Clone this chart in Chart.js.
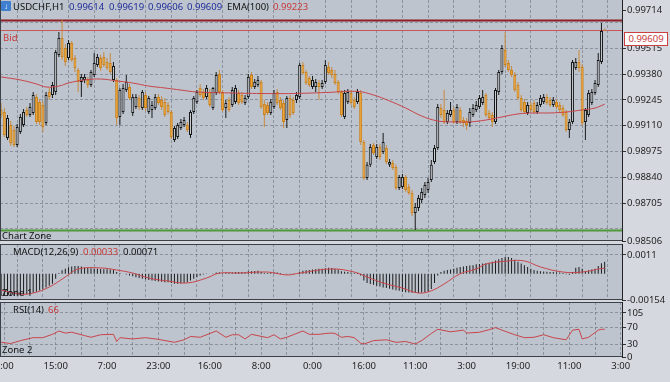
<!DOCTYPE html>
<html><head><meta charset="utf-8">
<script src="https://cdn.jsdelivr.net/npm/chart.js@4/dist/chart.umd.min.js"></script>
<style>
html,body{margin:0;padding:0;}
body{width:670px;height:382px;background:#d5d9df;position:relative;overflow:hidden;font-family:'Noto Sans',sans-serif;}
canvas{position:absolute;left:0;}
.t{position:absolute;font-size:9.5px;line-height:12px;white-space:nowrap;color:#111;}
.blue{color:#1f2d9a;} .red{color:#c83a3a;}
#icon{position:absolute;left:1px;top:1px;width:10px;height:10px;background:#3f7fd0;border-radius:1px;color:#fff;font-size:8px;line-height:10px;text-align:center;}
#pbox{position:absolute;left:624px;top:32px;width:42px;height:12px;background:#fff;border:1px solid #c84040;color:#c83a3a;font-size:9.5px;line-height:12px;text-align:center;}
</style></head><body>
<canvas id="main" width="670" height="248" style="top:0"></canvas>
<canvas id="macd" width="670" height="66" style="top:242px"></canvas>
<canvas id="rsi" width="670" height="82" style="top:300px"></canvas>

<div id="icon">&#8595;</div>
<div class="t" style="left:13px;top:1px">USDCHF,H1</div>
<div class="t blue" style="left:69px;top:1px">0.99614</div>
<div class="t blue" style="left:109px;top:1px">0.99619</div>
<div class="t blue" style="left:148px;top:1px">0.99606</div>
<div class="t blue" style="left:187px;top:1px">0.99609</div>
<div class="t" style="left:227px;top:1px">EMA(100)</div>
<div class="t red" style="left:273px;top:1px">0.99223</div>
<div class="t red" style="left:3px;top:32px">Bid</div>
<div class="t" style="left:2px;top:230px">Chart Zone</div>
<div class="t" style="left:13px;top:246px">MACD(12,26,9)</div>
<div class="t red" style="left:83px;top:246px">0.00033</div>
<div class="t" style="left:123px;top:246px">0.00071</div>
<div class="t" style="left:2px;top:287px">Zone 1</div>
<div class="t" style="left:13px;top:304px">RSI(14)</div>
<div class="t red" style="left:48px;top:304px">66</div>
<div class="t" style="left:2px;top:344px">Zone 2</div>
<div id="pbox">0.99609</div>

<script>
// ---------- data ----------
const firstBar = -1;
const timeLabels = ["0:00","15:00","7:00","23:00","16:00","8:00","0:00","16:00","11:00","3:00","19:00","11:00","3:00"];

const opens = [
0.99193,0.99182,0.99046,0.99114,0.99088,0.99009,0.99077,0.99114,0.99193,0.99166,
0.99177,0.99261,0.99234,0.99219,0.99124,0.99287,0.99271,0.99287,0.99481,0.99570,
0.99517,0.99465,0.99544,0.99465,0.99402,0.99339,0.99350,0.99350,0.99324,0.99376,
0.99428,0.99465,0.99470,0.99444,0.99439,0.99350,0.99350,0.99156,0.99182,0.99297,
0.99313,0.99177,0.99208,0.99255,0.99203,0.99271,0.99182,0.99193,0.99203,0.99261,
0.99245,0.99234,0.99219,0.99182,0.99035,0.99051,0.99098,0.99114,0.99114,0.99062,
0.99182,0.99234,0.99308,0.99287,0.99261,0.99287,0.99203,0.99282,0.99381,0.99287,
0.99203,0.99245,0.99219,0.99234,0.99282,0.99271,0.99229,0.99261,0.99376,0.99313,
0.99324,0.99339,0.99224,0.99219,0.99177,0.99208,0.99287,0.99245,0.99229,0.99140,
0.99255,0.99245,0.99245,0.99261,0.99428,0.99392,0.99360,0.99313,0.99313,0.99334,
0.99313,0.99339,0.99418,0.99402,0.99381,0.99339,0.99287,0.99156,0.99234,0.99282,
0.99245,0.99234,0.99282,0.99025,0.98836,0.98905,0.99009,0.98946,0.98999,0.98973,
0.98994,0.98905,0.98915,0.98894,0.98784,0.98789,0.98842,0.98789,0.98758,0.98653,
0.98679,0.98721,0.98747,0.98773,0.98826,0.98920,0.98994,0.99203,0.99193,0.99130,
0.99166,0.99193,0.99130,0.99193,0.99140,0.99135,0.99124,0.99166,0.99193,0.99208,
0.99229,0.99271,0.99177,0.99166,0.99130,0.99287,0.99392,0.99507,0.99439,0.99402,
0.99376,0.99324,0.99255,0.99234,0.99177,0.99219,0.99229,0.99182,0.99219,0.99234,
0.99261,0.99245,0.99219,0.99234,0.99219,0.99203,0.99182,0.99088,0.99130,0.99413,
0.99444,0.99418,0.99130,0.99166,0.99229,0.99282,0.99324,0.99444,0.99614];

const highs = [
0.99229,0.99203,0.99166,0.99135,0.99109,0.99119,0.99172,0.99198,0.99208,0.99229,
0.99287,0.99276,0.99250,0.99240,0.99287,0.99308,0.99339,0.99507,0.99601,0.99664,
0.99538,0.99559,0.99554,0.99481,0.99413,0.99381,0.99381,0.99366,0.99402,0.99491,
0.99486,0.99481,0.99497,0.99465,0.99491,0.99444,0.99360,0.99308,0.99329,0.99376,
0.99329,0.99276,0.99276,0.99271,0.99297,0.99287,0.99266,0.99240,0.99276,0.99276,
0.99266,0.99255,0.99234,0.99193,0.99109,0.99124,0.99145,0.99156,0.99130,0.99193,
0.99266,0.99297,0.99329,0.99303,0.99324,0.99303,0.99313,0.99392,0.99402,0.99297,
0.99245,0.99261,0.99313,0.99324,0.99297,0.99287,0.99271,0.99381,0.99392,0.99355,
0.99371,0.99350,0.99245,0.99234,0.99250,0.99297,0.99303,0.99261,0.99245,0.99266,
0.99271,0.99261,0.99287,0.99439,0.99444,0.99402,0.99371,0.99371,0.99355,0.99350,
0.99350,0.99455,0.99444,0.99418,0.99402,0.99350,0.99297,0.99297,0.99303,0.99297,
0.99261,0.99303,0.99297,0.99035,0.98920,0.99014,0.99020,0.99014,0.99014,0.99072,
0.99009,0.98936,0.98931,0.98905,0.98852,0.98857,0.98852,0.98805,0.98773,0.98705,
0.98747,0.98784,0.98815,0.98836,0.98931,0.99009,0.99224,0.99224,0.99297,0.99193,
0.99234,0.99208,0.99224,0.99208,0.99156,0.99151,0.99203,0.99224,0.99240,0.99271,
0.99297,0.99282,0.99193,0.99182,0.99308,0.99402,0.99533,0.99601,0.99455,0.99423,
0.99392,0.99339,0.99271,0.99250,0.99234,0.99234,0.99245,0.99234,0.99271,0.99276,
0.99276,0.99261,0.99261,0.99250,0.99234,0.99219,0.99193,0.99145,0.99455,0.99465,
0.99507,0.99434,0.99203,0.99297,0.99303,0.99350,0.99491,0.99648,0.99619];

const lows = [
0.99151,0.99051,0.99035,0.99004,0.98999,0.98999,0.99067,0.99104,0.99156,0.99156,
0.99166,0.99119,0.99114,0.99077,0.99114,0.99245,0.99255,0.99271,0.99470,0.99455,
0.99423,0.99455,0.99444,0.99392,0.99287,0.99261,0.99334,0.99308,0.99313,0.99366,
0.99418,0.99397,0.99418,0.99402,0.99381,0.99339,0.99114,0.99114,0.99172,0.99287,
0.99245,0.99161,0.99198,0.99193,0.99193,0.99187,0.99172,0.99151,0.99193,0.99219,
0.99193,0.99156,0.99172,0.99041,0.99025,0.99041,0.99088,0.99104,0.99077,0.99046,
0.99172,0.99224,0.99261,0.99245,0.99250,0.99208,0.99193,0.99271,0.99276,0.99182,
0.99151,0.99182,0.99208,0.99224,0.99219,0.99224,0.99219,0.99250,0.99303,0.99303,
0.99313,0.99198,0.99104,0.99166,0.99166,0.99198,0.99219,0.99193,0.99098,0.99098,
0.99151,0.99166,0.99229,0.99250,0.99376,0.99324,0.99313,0.99303,0.99287,0.99245,
0.99303,0.99329,0.99376,0.99360,0.99324,0.99276,0.99156,0.99145,0.99224,0.99219,
0.99198,0.99224,0.99009,0.98826,0.98826,0.98894,0.98957,0.98936,0.98931,0.98962,
0.98910,0.98894,0.98878,0.98773,0.98773,0.98779,0.98763,0.98747,0.98637,0.98564,
0.98663,0.98705,0.98731,0.98758,0.98815,0.98910,0.98983,0.99151,0.99119,0.99119,
0.99156,0.99119,0.99119,0.99119,0.99104,0.99088,0.99104,0.99156,0.99182,0.99198,
0.99219,0.99156,0.99140,0.99104,0.99119,0.99271,0.99381,0.99418,0.99392,0.99366,
0.99287,0.99245,0.99182,0.99172,0.99166,0.99182,0.99172,0.99172,0.99208,0.99224,
0.99219,0.99208,0.99208,0.99198,0.99182,0.99156,0.99077,0.99046,0.99119,0.99402,
0.99392,0.99109,0.99035,0.99156,0.99219,0.99271,0.99313,0.99434,0.99606];

const closes = [
0.99166,0.99062,0.99151,0.99020,0.99009,0.99104,0.99156,0.99182,0.99166,0.99208,
0.99271,0.99130,0.99130,0.99104,0.99271,0.99261,0.99324,0.99497,0.99570,0.99470,
0.99444,0.99544,0.99455,0.99413,0.99339,0.99366,0.99366,0.99324,0.99392,0.99439,
0.99470,0.99413,0.99428,0.99413,0.99392,0.99423,0.99151,0.99297,0.99308,0.99339,
0.99255,0.99261,0.99261,0.99208,0.99287,0.99203,0.99255,0.99219,0.99261,0.99229,
0.99208,0.99166,0.99182,0.99051,0.99098,0.99114,0.99130,0.99140,0.99088,0.99182,
0.99255,0.99287,0.99271,0.99255,0.99308,0.99219,0.99308,0.99376,0.99287,0.99193,
0.99229,0.99193,0.99297,0.99308,0.99229,0.99234,0.99255,0.99366,0.99313,0.99339,
0.99350,0.99208,0.99166,0.99177,0.99234,0.99282,0.99229,0.99203,0.99130,0.99255,
0.99166,0.99177,0.99271,0.99428,0.99386,0.99334,0.99324,0.99350,0.99339,0.99313,
0.99334,0.99428,0.99386,0.99376,0.99334,0.99287,0.99166,0.99282,0.99287,0.99229,
0.99208,0.99287,0.99025,0.98836,0.98905,0.98999,0.98967,0.98999,0.98946,0.99025,
0.98920,0.98920,0.98889,0.98784,0.98842,0.98842,0.98773,0.98758,0.98653,0.98684,
0.98731,0.98763,0.98800,0.98815,0.98905,0.98994,0.99208,0.99166,0.99130,0.99177,
0.99193,0.99130,0.99208,0.99130,0.99124,0.99114,0.99182,0.99203,0.99219,0.99255,
0.99261,0.99166,0.99151,0.99130,0.99297,0.99392,0.99517,0.99428,0.99402,0.99376,
0.99297,0.99255,0.99193,0.99182,0.99219,0.99193,0.99182,0.99219,0.99255,0.99261,
0.99229,0.99219,0.99245,0.99208,0.99193,0.99166,0.99088,0.99130,0.99444,0.99444,
0.99413,0.99124,0.99193,0.99282,0.99287,0.99334,0.99455,0.99607,0.99609];

const emaIdx  = [-1,5,10,13,17,20,25,30,35,40,45,50,55,60,70,80,90,100,110,115,120,125,130,135,140,145,150,155,160,165,170,175,180,184,187];
const emaVals = [0.99366,0.99350,0.99329,0.99313,0.99318,0.99334,0.99350,0.99355,0.99345,0.99334,0.99318,0.99308,0.99297,0.99287,0.99282,0.99279,0.99279,0.99284,0.99290,0.99271,0.99240,0.99203,0.99161,0.99135,0.99130,0.99130,0.99140,0.99156,0.99172,0.99177,0.99177,0.99182,0.99193,0.99203,0.99223];

const macdHist = [
-0.00131,-0.00131,-0.0013,-0.0013,-0.00129,-0.00128,-0.00125,-0.00122,-0.0012,-0.00118,
-0.00112,-0.00105,-0.00098,-0.0009,-0.0008,-0.0007,-0.00058,-0.0003,0.00005,0.0002,
0.0003,0.00038,0.00042,0.00045,0.00045,0.00042,0.00035,0.00033,0.00032,0.00031,
0.0003,0.00028,0.00027,0.00026,0.00025,0.00022,0.0001,0.00005,0.0,-0.00005,
-0.0001,-0.00015,-0.0002,-0.00025,-0.0003,-0.00033,-0.00037,-0.0004,-0.00042,-0.00045,
-0.00047,-0.0005,-0.0005,-0.00055,-0.00058,-0.00058,-0.00057,-0.00055,-0.0005,-0.0004,
-0.0003,-0.0002,-0.0001,-0.00005,-0.00002,0.0,0.00002,0.00008,0.00008,0.00003,
0.00005,0.00004,0.00008,0.0001,0.0001,0.0001,0.0001,0.00015,0.00015,0.00016,
0.00017,0.0001,0.00005,0.00005,0.00006,0.00008,0.00007,0.00005,0.0,-0.00003,
-0.00002,-0.00003,0.0,0.0001,0.00018,0.0002,0.00022,0.00025,0.00027,0.0003,
0.0003,0.00032,0.00035,0.00033,0.0003,0.00025,0.00015,0.00012,0.0001,0.00008,
0.00005,0.00005,-0.0001,-0.0004,-0.00054,-0.0006,-0.00065,-0.0007,-0.00075,-0.0008,
-0.00084,-0.00088,-0.00092,-0.00097,-0.001,-0.00105,-0.00108,-0.0011,-0.00112,-0.00113,
-0.00113,-0.0011,-0.00108,-0.00105,-0.0009,-0.00054,-0.0001,0.0001,0.00018,0.00022,
0.00025,0.0003,0.00035,0.0004,0.00042,0.00045,0.00048,0.0005,0.00055,0.00057,
0.0006,0.00062,0.00065,0.0007,0.00078,0.00085,0.00093,0.00098,0.00098,0.00092,
0.00082,0.0007,0.0006,0.0005,0.0004,0.0003,0.00022,0.00018,0.00015,0.00013,
0.00012,0.0001,0.0001,0.00009,0.00007,0.00004,-0.00003,-0.00006,0.0001,0.00035,
0.0004,0.0003,0.00015,0.0002,0.00025,0.0003,0.00045,0.00062,0.00071];

const signalIdx  = [-1,5,9,14,19,23,30,35,40,45,51,57,63,67,73,82,88,92,102,109,113,118,124,129,133,137,142,147,150,157,162,167,174,180,186,187];
const signalVals = [-0.00096,-0.00119,-0.00113,-0.00078,-0.00019,0.00028,0.00034,0.00022,0.00004,-0.00025,-0.00043,-0.00054,-0.00025,0.00004,0.00004,0.0001,-0.00007,0.00004,0.00028,0.0001,-0.00019,-0.00054,-0.00084,-0.00113,-0.001,-0.0006,0.0,0.00028,0.00057,0.00075,0.00075,0.0004,0.0001,0.0001,0.00031,0.00033];

const rsiIdx  = [-1,2,5,9,12,15,17,19,21,25,27,30,34,35,36,40,44,48,53,56,58,61,66,69,71,73,75,77,82,84,86,88,90,93,95,98,100,102,103,105,107,109,111,112,115,119,122,125,128,130,133,135,139,143,144,148,151,153,155,159,162,165,168,171,175,177,179,180,182,185,186,187];
const rsiVals = [35,32,39,46,46,54,62,57,59,51,47,53,54,37,46,43,46,42,35,41,49,47,62,47,53,53,43,54,46,53,43,47,53,62,54,54,56,57,56,47,49,46,33,31,39,41,35,37,31,39,56,66,60,64,57,59,65,70,64,53,46,47,53,46,41,64,66,43,47,64,66,66];

const priceTicks  = [0.98506,0.98570,0.98705,0.98840,0.98975,0.99110,0.99245,0.99380,0.99515,0.99650,0.99714];
const priceLabels = ["0.98506","","0.98705","0.98840","0.98975","0.99110","0.99245","0.99380","0.99515","","0.99714"];
const priceGrid   = [false,true,true,true,true,true,true,true,true,true,false];
const macdTicks  = [-0.00154, 0.0011];
const macdLabels = ["-0.00154","0.0011"];
const rsiTicks  = [0,30,70,105];
const rsiLabels = ["0","30","70","105"];

const zoneTop = 0.99661, bidPrice = 0.99609, zoneBottom = 0.98561;

// ---------- style ----------
Chart.defaults.font.family = "'Noto Sans', sans-serif";
Chart.defaults.font.size = 9.5;
Chart.defaults.color = '#222';
const xMin = -1.34, xMax = 192.4;
const gridCol = 'rgba(105,115,128,0.6)';
const bearFill = '#f0a434', bearEdge = '#c98018', bullFill = '#c9cfd6', bullEdge = '#151515';
const bearWick = '#c98a3e', bullWick = '#1a1a1a';

const panel = {
  id: 'panel',
  beforeDraw(chart) {
    const {ctx, chartArea: a} = chart;
    ctx.save();
    ctx.fillStyle = '#bdc4cd';
    ctx.fillRect(a.left, a.top, a.right - a.left, a.bottom - a.top);
    ctx.restore();
  },
  afterDraw(chart) {
    const {ctx, chartArea: a} = chart;
    ctx.save();
    ctx.strokeStyle = '#3c4148';
    ctx.lineWidth = 1;
    ctx.beginPath();
    ctx.moveTo(a.left + 0.5, a.top); ctx.lineTo(a.left + 0.5, a.bottom);
    ctx.moveTo(a.left, a.bottom - 0.5); ctx.lineTo(a.right, a.bottom - 0.5);
    if (chart.canvas.id !== 'main') { ctx.moveTo(a.left, a.top + 0.5); ctx.lineTo(a.right, a.top + 0.5); }
    ctx.stroke();
    ctx.restore();
  }
};

const gridIdx = [];
for (let v = 0; v <= 192; v += 8) gridIdx.push(v);

function xScale(showLabels) {
  return {
    type: 'linear', min: xMin, max: xMax, offset: false,
    afterBuildTicks: s => { s.ticks = gridIdx.map(v => ({value: v})); },
    afterFit: s => { s.height = showLabels ? 25 : 0; s.paddingLeft = 0; s.paddingRight = 0; },
    ticks: { display: showLabels, autoSkip: false, maxRotation: 0, padding: 4, color: '#222',
             callback: v => (v % 16 === 0 ? timeLabels[v / 16] : '') },
    grid: { color: gridCol, drawTicks: false, lineWidth: 1 },
    border: { display: false, dash: [3, 2] }
  };
}
function yScale(min, max, ticks, labels, gridFlags) {
  return {
    position: 'right', min, max,
    afterBuildTicks: s => { s.ticks = ticks.map(v => ({value: v})); },
    afterFit: s => { s.width = 48; s.paddingTop = 0; s.paddingBottom = 0; },
    ticks: { autoSkip: false, padding: 1, color: '#222', callback: (v, i) => labels[i] },
    grid: { color: c => (gridFlags[c.index] ? gridCol : 'rgba(0,0,0,0)'),
            tickColor: c => (labels[c.index] ? '#333' : 'rgba(0,0,0,0)'),
            tickLength: 4, drawTicks: true },
    border: { display: true, color: '#222', width: 1, dash: [3, 2] }
  };
}
const baseOpts = {
  responsive: false, animation: false, devicePixelRatio: 1,
  plugins: { legend: { display: false }, tooltip: { enabled: false } }
};

const barIdx = opens.map((_, k) => firstBar + k);
const up = k => closes[k] >= opens[k];
const hline = (v, color, w) => ({ type: 'line', data: [{x: -5, y: v}, {x: 200, y: v}],
  borderColor: color, borderWidth: w, pointRadius: 0, order: 3 });

new Chart(document.getElementById('main'), {
  type: 'bar',
  data: { datasets: [
    { type: 'line', data: emaIdx.map((x, k) => ({x, y: emaVals[k]})), borderColor: '#c9454b',
      borderWidth: 1, pointRadius: 0, tension: 0.4, order: 0 },
    { type: 'bar', data: barIdx.map((x, k) => ({x, y: [Math.min(opens[k], closes[k]), Math.max(opens[k], closes[k])]})),
      barThickness: 3, borderWidth: 1, borderSkipped: false, inflateAmount: 0, grouped: false,
      backgroundColor: c => (up(c.dataIndex) ? bullFill : bearFill),
      borderColor: c => (up(c.dataIndex) ? bullEdge : bearEdge), order: 1 },
    { type: 'bar', data: barIdx.map((x, k) => ({x, y: [lows[k], highs[k]]})),
      barThickness: 1, borderWidth: 0, inflateAmount: 0, grouped: false,
      backgroundColor: c => (up(c.dataIndex) ? bullWick : bearWick), order: 2 },
    hline(zoneTop, '#8e1f27', 2),
    hline(bidPrice, '#c9545a', 1),
    hline(zoneBottom, '#4f9a38', 2)
  ]},
  options: Object.assign({}, baseOpts, {
    layout: { padding: { left: 0, right: 0, top: 0, bottom: 7 } },
    scales: { x: xScale(false), y: yScale(0.98506, 0.99769, priceTicks, priceLabels, priceGrid) }
  }),
  plugins: [panel]
});

new Chart(document.getElementById('macd'), {
  type: 'bar',
  data: { datasets: [
    { type: 'line', data: signalIdx.map((x, k) => ({x, y: signalVals[k]})), borderColor: '#c9454b',
      borderWidth: 1, pointRadius: 0, tension: 0.4, order: 0 },
    { type: 'bar', data: barIdx.map((x, k) => ({x, y: macdHist[k]})), barThickness: 1,
      inflateAmount: 0, grouped: false, backgroundColor: '#1c1c1c', order: 1 }
  ]},
  options: Object.assign({}, baseOpts, {
    layout: { padding: { left: 0, right: 0, top: 2, bottom: 8 } },
    scales: { x: xScale(false), y: yScale(-0.00154, 0.001745, macdTicks, macdLabels, [false, true]) }
  }),
  plugins: [panel]
});

new Chart(document.getElementById('rsi'), {
  type: 'line',
  data: { datasets: [
    { data: rsiIdx.map((x, k) => ({x, y: rsiVals[k]})), borderColor: '#c9454b', borderWidth: 1,
      pointRadius: 0, tension: 0 }
  ]},
  options: Object.assign({}, baseOpts, {
    layout: { padding: { left: 0, right: 0, top: 2, bottom: 0 } },
    scales: { x: xScale(true), y: yScale(0, 131, rsiTicks, rsiLabels, [false, true, true, true]) }
  }),
  plugins: [panel]
});
</script>
</body></html>
